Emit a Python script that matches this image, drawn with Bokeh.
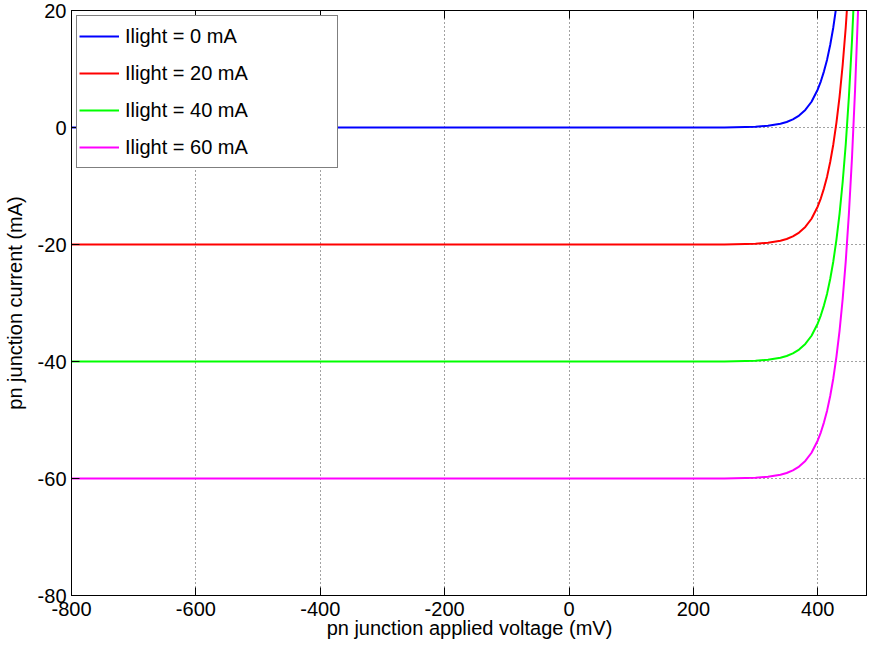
from bokeh.plotting import figure
from bokeh.models import FixedTicker, Range1d, Legend, LegendItem, ColumnDataSource, LinearAxis
from bokeh.embed import file_html
from bokeh.resources import INLINE

# ---- data ----
voltage_mV = [-800, 200, 250, 300, 320, 340, 350, 360, 370, 380, 390, 400, 405,
              410, 415, 420, 425, 430, 435, 440, 445, 450, 455, 460, 465, 470, 475, 480]
i_0mA = [0, 0, 0.02, 0.14, 0.29, 0.64, 0.94, 1.39, 2.04, 3.0, 4.4, 6.5, 7.9,
         9.6, 11.6, 14.1, 17.1, 20.8, 25.2, 30.6, 37.1, 45.1, 54.7, 66.4, 80.5, 97.7, 118.5, 143.8]
i_20mA = [-20, -20, -19.98, -19.86, -19.71, -19.36, -19.06, -18.61, -17.96, -17.0, -15.6, -13.5, -12.1,
          -10.4, -8.4, -5.9, -2.9, 0.8, 5.2, 10.6, 17.1, 25.1, 34.7, 46.4, 60.5, 77.7, 98.5, 123.8]
i_40mA = [-40, -40, -39.98, -39.86, -39.71, -39.36, -39.06, -38.61, -37.96, -37.0, -35.6, -33.5, -32.1,
          -30.4, -28.4, -25.9, -22.9, -19.2, -14.8, -9.4, -2.9, 5.1, 14.7, 26.4, 40.5, 57.7, 78.5, 103.8]
i_60mA = [-60, -60, -59.98, -59.86, -59.71, -59.36, -59.06, -58.61, -57.96, -57.0, -55.6, -53.5, -52.1,
          -50.4, -48.4, -45.9, -42.9, -39.2, -34.8, -29.4, -22.9, -14.9, -5.3, 6.4, 20.5, 37.7, 58.5, 83.8]

series_labels = ["Ilight = 0 mA", "Ilight = 20 mA", "Ilight = 40 mA", "Ilight = 60 mA"]
series_values = [i_0mA, i_20mA, i_40mA, i_60mA]
series_colors = ["#0000FF", "#FF0000", "#00FF00", "#FF00FF"]

x_ticks = [-800, -600, -400, -200, 0, 200, 400]
x_tick_labels = ["-800", "-600", "-400", "-200", "0", "200", "400"]
y_ticks = [-80, -60, -40, -20, 0, 20]
y_tick_labels = ["-80", "-60", "-40", "-20", "0", "20"]

FONT = "Liberation Sans"

p = figure(width=867, height=641, output_backend="svg", toolbar_location=None,
           x_range=Range1d(-800, 480), y_range=Range1d(-80, 20),
           min_border_left=69, min_border_top=10, min_border_bottom=0, min_border_right=0)

p.background_fill_color = "white"
p.border_fill_color = "white"
p.outline_line_color = "black"
p.outline_line_width = 1

bottom_axis = p.below[0]
left_axis = p.left[0]

items = []
for lab, vals, col in zip(series_labels, series_values, series_colors):
    src = ColumnDataSource(dict(x=voltage_mV, y=vals))
    r = p.line("x", "y", source=src, line_color=col, line_width=2)
    items.append(LegendItem(label=lab, renderers=[r]))

legend = Legend(items=items, location="top_left")
legend.label_text_font = FONT
legend.label_text_font_size = "20px"
legend.label_text_color = "black"
legend.border_line_color = "black"
legend.border_line_width = 1
legend.background_fill_color = "white"
legend.background_fill_alpha = 1
legend.glyph_width = 40
legend.glyph_height = 36
legend.label_height = 36
legend.label_standoff = 6
legend.label_width = 210
legend.spacing = 1
legend.padding = 2
legend.margin = 5
p.add_layout(legend)

top_axis = LinearAxis()
p.add_layout(top_axis, "above")

for ax, ticks, labels in ((bottom_axis, x_ticks, x_tick_labels), (left_axis, y_ticks, y_tick_labels),
                          (top_axis, x_ticks, x_tick_labels)):
    ax.ticker = FixedTicker(ticks=ticks)
    ax.major_label_overrides = {t: l for t, l in zip(ticks, labels)}
    ax.major_label_text_font = FONT
    ax.major_label_text_font_size = "20px"
    ax.major_label_text_color = "black"
    ax.axis_label_text_font = FONT
    ax.axis_label_text_font_size = "20px"
    ax.axis_label_text_font_style = "normal"
    ax.axis_label_text_color = "black"
    ax.axis_line_color = "black"
    ax.major_tick_line_color = "black"
    ax.major_tick_in = 8
    ax.major_tick_out = 0
    ax.minor_tick_line_color = None

top_axis.major_label_text_font_size = "0px"
top_axis.major_label_text_alpha = 0
top_axis.major_label_standoff = 0

bottom_axis.axis_label = "pn junction applied voltage (mV)"
left_axis.axis_label = "pn junction current (mA)"
bottom_axis.major_label_standoff = 6
bottom_axis.axis_label_standoff = -2
left_axis.major_label_standoff = 5
left_axis.axis_label_standoff = 9

for g in (p.xgrid[0], p.ygrid[0]):
    g.grid_line_color = "#444444"
    g.grid_line_dash = "1 3"
    g.grid_line_width = 1

open("out.html", "w").write(file_html(p, INLINE))
